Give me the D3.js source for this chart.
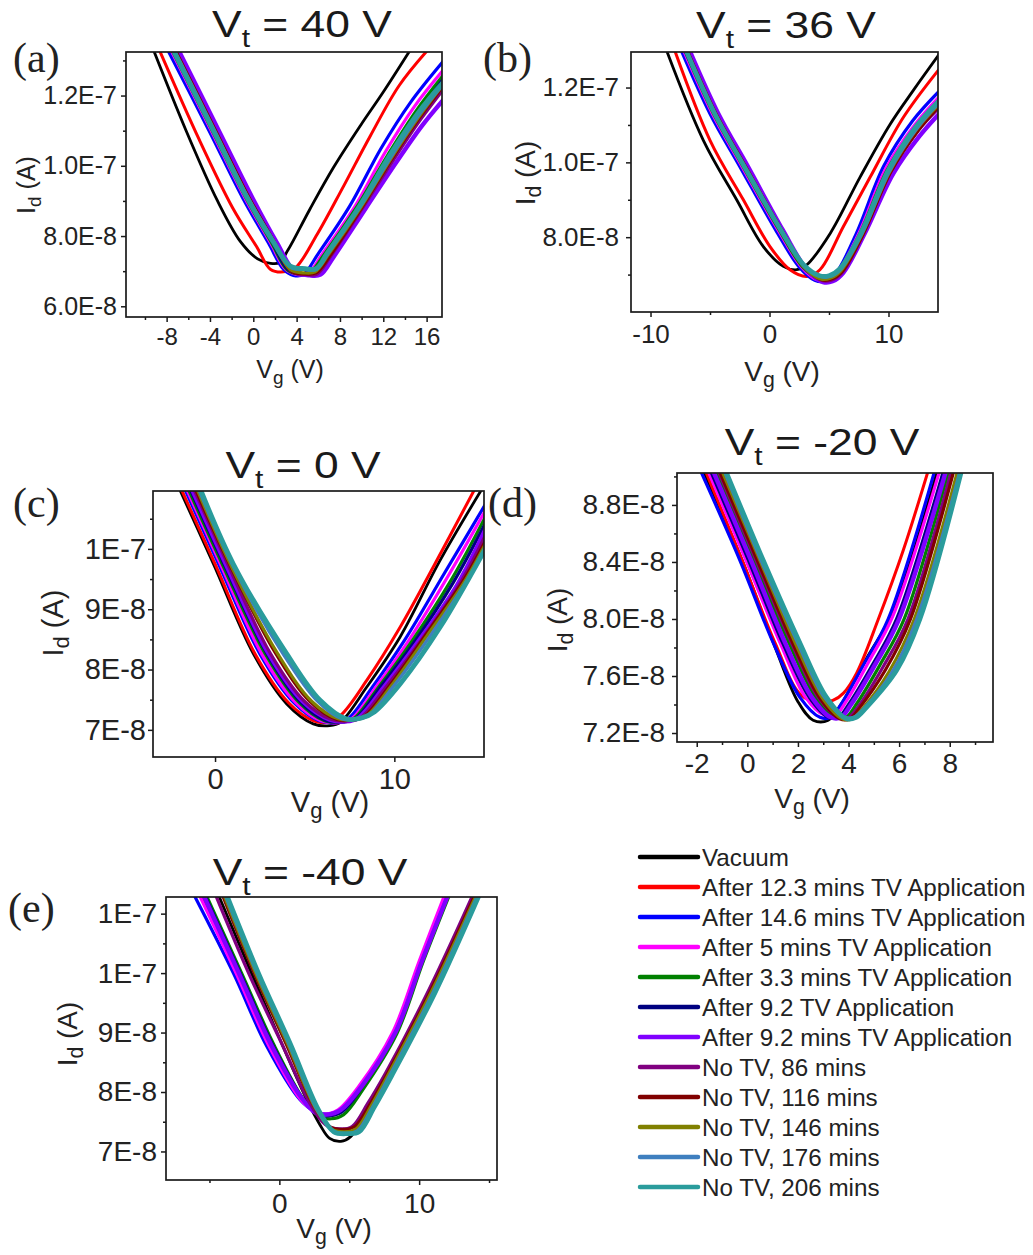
<!DOCTYPE html>
<html>
<head>
<meta charset="utf-8">
<script src="https://cdnjs.cloudflare.com/ajax/libs/d3/7.8.5/d3.min.js"></script>
<style>
body { margin: 0; background: #fff; }
svg { font-family: "Liberation Sans", Arial, sans-serif; }
</style>
</head>
<body>
<script>
// legend order
var seriesNames = [
  "Vacuum",
  "After 12.3 mins TV Application",
  "After 14.6 mins TV Application",
  "After 5 mins TV Application",
  "After 3.3 mins TV Application",
  "After 9.2 TV Application",
  "After 9.2 mins TV Application",
  "No TV, 86 mins",
  "No TV, 116 mins",
  "No TV, 146 mins",
  "No TV, 176 mins",
  "No TV, 206 mins"
];
var seriesColors = ["#000000", "#ff0000", "#0000ff", "#ff00ff", "#008000", "#000080",
  "#8000ff", "#800080", "#800000", "#808000", "#3f7fbf", "#2a9c9c"];
var seriesWidths = [2.8, 3, 3.2, 3.2, 3.2, 3.2, 4.4, 3.2, 3.2, 3.2, 3.4, 4.8];

// curves: [Vg (V), Id (in 1E-8 A)], one list per series in legend order
var curvesA = [
  [[-9.6,13.6],[-6.2,11.0],[-3.3,9.0],[-1.2,7.85],[0.4,7.35],[1.6,7.22],[2.4,7.24],[3.2,7.6],[5.2,8.75],[7.4,9.95],[9.9,11.15],[12.0,12.1],[14.7,13.4]],
  [[-9.1,13.6],[-5.0,10.75],[-1.9,8.8],[0.3,7.7],[1.6,7.05],[2.8,6.98],[3.9,7.1],[5.9,8.05],[8.3,9.4],[10.8,10.85],[13.5,12.3],[16.4,13.4]],
  [[-8.4,13.6],[-4.0,10.95],[-1.0,9.1],[1.4,7.8],[2.8,7.05],[3.7,6.88],[4.6,6.9],[6.0,7.5],[8.9,8.85],[11.8,10.5],[14.5,11.8],[17.6,13.0]],
  [[-8.1,13.6],[-3.8,10.95],[-0.8,9.1],[1.6,7.8],[3.0,7.05],[4.1,6.9],[5.0,6.92],[6.4,7.5],[9.3,8.8],[12.2,10.4],[14.9,11.7],[17.6,12.75]],
  [[-8.0,13.6],[-3.7,10.95],[-0.7,9.1],[1.7,7.8],[3.1,7.05],[4.2,6.92],[5.2,6.95],[6.6,7.5],[9.5,8.8],[12.4,10.3],[15.0,11.55],[17.6,12.6]],
  [[-7.9,13.6],[-3.6,10.95],[-0.6,9.1],[1.8,7.8],[3.2,7.05],[4.4,6.9],[5.4,6.92],[6.8,7.5],[9.7,8.8],[12.6,10.25],[15.2,11.45],[17.6,12.5]],
  [[-7.4,13.6],[-3.1,10.95],[-0.1,9.1],[2.2,7.8],[3.8,7.0],[5.2,6.88],[6.2,6.9],[7.4,7.4],[10.4,8.8],[13.2,10.1],[15.6,11.15],[17.6,11.9]],
  [[-7.7,13.6],[-3.4,10.95],[-0.4,9.1],[2.0,7.8],[3.5,7.0],[4.9,6.9],[5.9,6.92],[7.2,7.45],[10.1,8.8],[12.9,10.15],[15.4,11.3],[17.6,12.2]],
  [[-7.7,13.6],[-3.4,10.95],[-0.4,9.1],[2.0,7.8],[3.5,7.0],[4.8,6.92],[5.8,6.95],[7.1,7.45],[10.0,8.8],[12.8,10.2],[15.3,11.35],[17.6,12.3]],
  [[-7.8,13.6],[-3.5,10.95],[-0.5,9.1],[1.9,7.8],[3.4,7.05],[4.7,6.95],[5.7,6.98],[7.0,7.5],[9.9,8.8],[12.7,10.2],[15.3,11.4],[17.6,12.35]],
  [[-7.8,13.6],[-3.5,10.95],[-0.5,9.1],[1.9,7.85],[3.5,7.1],[4.8,7.05],[5.8,7.05],[7.0,7.55],[9.9,8.85],[12.7,10.25],[15.3,11.45],[17.6,12.35]],
  [[-7.9,13.6],[-3.6,10.95],[-0.6,9.1],[1.8,7.85],[3.4,7.15],[4.8,7.07],[5.8,7.07],[6.9,7.55],[9.8,8.85],[12.6,10.3],[15.2,11.5],[17.6,12.4]]
];
var curvesB = [
  [[-8.9,13.2],[-5.56,10.59],[-2.76,9.0],[-0.52,7.75],[1.16,7.22],[2.3,7.13],[3.1,7.25],[5.1,8.1],[7.6,9.6],[10.1,11.0],[12.1,11.93],[14.4,12.95]],
  [[-8.2,13.2],[-5.0,10.59],[-2.2,9.0],[0.04,7.75],[1.72,7.13],[3.13,6.95],[4.24,7.13],[6.2,8.28],[8.45,9.6],[11.24,11.2],[14.4,12.55]],
  [[-7.7,13.2],[-5.0,11.3],[-2.48,9.88],[0.5,8.2],[2.5,7.2],[3.8,6.85],[4.6,6.82],[5.5,7.0],[7.3,8.1],[9.6,9.9],[12.0,11.1],[14.4,11.95]],
  [[-7.5,13.2],[-4.8,11.3],[-2.3,9.88],[0.7,8.2],[2.7,7.2],[4.0,6.86],[4.8,6.85],[5.7,7.05],[7.5,8.1],[9.8,9.85],[12.2,11.0],[14.4,11.8]],
  [[-7.4,13.2],[-4.7,11.3],[-2.2,9.88],[0.8,8.2],[2.8,7.2],[4.1,6.9],[4.9,6.9],[5.8,7.1],[7.6,8.1],[9.9,9.8],[12.3,10.95],[14.4,11.7]],
  [[-7.4,13.2],[-4.6,11.3],[-2.1,9.88],[0.9,8.2],[2.9,7.2],[4.2,6.86],[5.0,6.86],[5.9,7.05],[7.7,8.1],[10.0,9.8],[12.4,10.9],[14.4,11.65]],
  [[-7.0,13.2],[-4.3,11.3],[-1.8,9.88],[1.1,8.2],[3.1,7.15],[4.5,6.8],[5.3,6.82],[6.2,7.05],[8.0,8.1],[10.4,9.7],[12.6,10.7],[14.4,11.35]],
  [[-7.2,13.2],[-4.5,11.3],[-2.0,9.88],[1.0,8.2],[3.0,7.18],[4.4,6.84],[5.2,6.85],[6.1,7.05],[7.9,8.1],[10.2,9.75],[12.5,10.85],[14.4,11.5]],
  [[-7.2,13.2],[-4.5,11.3],[-2.0,9.88],[1.0,8.2],[3.0,7.2],[4.4,6.86],[5.2,6.88],[6.1,7.08],[7.9,8.1],[10.2,9.75],[12.5,10.85],[14.4,11.55]],
  [[-7.3,13.2],[-4.6,11.3],[-2.1,9.88],[0.9,8.2],[2.9,7.2],[4.3,6.88],[5.1,6.9],[6.0,7.1],[7.8,8.1],[10.1,9.75],[12.4,10.9],[14.4,11.6]],
  [[-7.3,13.2],[-4.6,11.3],[-2.1,9.88],[0.9,8.22],[2.9,7.25],[4.3,6.95],[5.1,6.95],[6.0,7.15],[7.8,8.12],[10.1,9.78],[12.4,10.92],[14.4,11.65]],
  [[-7.3,13.2],[-4.6,11.3],[-2.1,9.88],[0.9,8.22],[2.9,7.25],[4.2,6.97],[5.0,6.97],[5.9,7.15],[7.7,8.12],[10.0,9.8],[12.3,10.95],[14.4,11.7]]
];
var curvesC = [
  [[-2.3,11.2],[-0.09,9.75],[2.14,8.26],[4.0,7.43],[5.48,7.1],[6.4,7.07],[7.0,7.13],[8.46,7.71],[10.32,8.54],[12.55,9.81],[14.9,11.0]],
  [[-2.2,11.2],[0.0,9.75],[2.25,8.25],[4.1,7.45],[5.5,7.15],[6.2,7.12],[7.0,7.24],[8.46,7.82],[10.32,8.7],[12.17,9.7],[14.5,11.0]],
  [[-2.0,11.2],[0.2,9.75],[2.5,8.26],[4.4,7.45],[5.8,7.15],[6.7,7.12],[7.4,7.18],[8.8,7.72],[10.6,8.5],[12.8,9.6],[15.2,10.8]],
  [[-1.9,11.2],[0.3,9.75],[2.6,8.26],[4.5,7.45],[5.9,7.15],[6.9,7.12],[7.6,7.18],[9.0,7.72],[10.8,8.48],[13.0,9.55],[15.2,10.7]],
  [[-1.8,11.2],[0.4,9.75],[2.8,8.26],[4.7,7.45],[6.1,7.15],[7.0,7.13],[7.7,7.18],[9.1,7.7],[11.0,8.48],[13.2,9.5],[15.2,10.6]],
  [[-1.7,11.2],[0.5,9.75],[2.9,8.26],[4.8,7.45],[6.2,7.15],[7.1,7.13],[7.8,7.18],[9.2,7.7],[11.1,8.45],[13.3,9.45],[15.2,10.5]],
  [[-1.6,11.2],[0.6,9.75],[3.0,8.26],[4.9,7.47],[6.4,7.17],[7.3,7.14],[8.0,7.2],[9.4,7.7],[11.3,8.45],[13.5,9.4],[15.2,10.4]],
  [[-1.5,11.2],[0.7,9.75],[3.1,8.26],[5.0,7.47],[6.5,7.17],[7.4,7.15],[8.1,7.2],[9.5,7.7],[11.4,8.45],[13.6,9.4],[15.2,10.3]],
  [[-1.4,11.2],[0.8,9.75],[3.4,8.26],[5.3,7.47],[6.8,7.17],[7.6,7.16],[8.3,7.22],[9.7,7.72],[11.7,8.55],[13.9,9.5],[15.2,10.2]],
  [[-1.3,11.2],[0.85,9.75],[3.5,8.26],[5.4,7.47],[6.9,7.18],[7.7,7.17],[8.4,7.22],[9.8,7.72],[11.8,8.55],[14.0,9.5],[15.2,10.15]],
  [[-1.2,11.2],[0.95,9.75],[3.8,8.26],[5.7,7.48],[7.1,7.18],[7.9,7.18],[8.6,7.25],[10.0,7.74],[12.1,8.6],[14.3,9.6],[15.2,10.1]],
  [[-1.1,11.2],[1.02,9.75],[4.0,8.26],[5.86,7.49],[7.34,7.18],[8.2,7.2],[8.9,7.3],[10.32,7.76],[12.55,8.7],[15.2,10.07]]
];
var curvesD = [
  [[-1.9,9.1],[-0.2,8.41],[1.1,7.8],[2.0,7.42],[2.6,7.29],[3.2,7.29],[3.7,7.4],[4.7,7.72],[5.75,8.05],[7.6,9.1]],
  [[-1.8,9.1],[-0.2,8.41],[1.1,7.83],[2.1,7.47],[2.87,7.41],[3.4,7.43],[3.8,7.48],[4.32,7.62],[5.18,8.0],[6.16,8.48],[7.25,9.1]],
  [[-2.0,9.1],[-0.29,8.41],[1.03,7.83],[2.08,7.45],[2.87,7.31],[3.3,7.31],[3.7,7.4],[4.6,7.68],[5.57,8.0],[7.5,9.1]],
  [[-1.7,9.1],[-0.05,8.41],[1.3,7.83],[2.3,7.45],[3.0,7.33],[3.5,7.33],[3.9,7.42],[4.8,7.7],[5.75,8.02],[7.7,9.1]],
  [[-1.4,9.1],[0.25,8.41],[1.65,7.83],[2.7,7.45],[3.5,7.31],[3.9,7.31],[4.3,7.4],[5.25,7.68],[6.2,8.0],[8.05,9.1]],
  [[-1.6,9.1],[0.05,8.41],[1.4,7.83],[2.45,7.45],[3.2,7.31],[3.6,7.31],[4.0,7.4],[4.95,7.68],[5.9,8.0],[7.85,9.1]],
  [[-1.5,9.1],[0.15,8.41],[1.5,7.83],[2.55,7.45],[3.3,7.31],[3.7,7.31],[4.1,7.4],[5.05,7.68],[6.0,8.0],[7.95,9.1]],
  [[-1.3,9.1],[0.35,8.41],[1.75,7.83],[2.8,7.45],[3.6,7.31],[4.0,7.31],[4.4,7.39],[5.35,7.66],[6.35,8.0],[8.15,9.1]],
  [[-1.25,9.1],[0.4,8.41],[1.8,7.83],[2.85,7.45],[3.65,7.3],[4.05,7.3],[4.45,7.38],[5.45,7.64],[6.45,8.0],[8.25,9.1]],
  [[-1.15,9.1],[0.5,8.41],[1.9,7.83],[2.95,7.45],[3.75,7.3],[4.15,7.3],[4.55,7.37],[5.6,7.63],[6.6,8.0],[8.4,9.1]],
  [[-1.05,9.1],[0.55,8.41],[2.0,7.83],[3.05,7.45],[3.85,7.31],[4.2,7.31],[4.65,7.38],[5.7,7.62],[6.7,8.0],[8.5,9.1]],
  [[-1.0,9.1],[0.63,8.41],[2.08,7.83],[3.13,7.45],[3.92,7.3],[4.3,7.31],[4.71,7.38],[5.9,7.64],[6.82,8.0],[8.55,9.1]]
];
var curvesE = [
  [[-4.6,11.45],[-2.0,10.0],[0.2,8.8],[1.9,7.9],[2.9,7.45],[3.6,7.22],[4.4,7.17],[5.1,7.25],[6.0,7.6],[7.7,8.32],[10.8,9.72],[14.2,11.45]],
  [[-5.9,11.45],[-3.0,10.05],[-0.7,8.85],[1.6,7.9],[2.6,7.65],[3.4,7.6],[4.3,7.65],[5.8,8.1],[8.2,9.0],[10.2,10.25],[12.3,11.45]],
  [[-6.4,11.45],[-3.29,10.0],[-0.9,8.77],[1.48,7.87],[2.5,7.68],[3.3,7.63],[4.34,7.7],[5.76,8.09],[8.2,9.0],[10.1,10.2],[12.15,11.45]],
  [[-6.0,11.45],[-3.1,10.0],[-0.8,8.8],[1.5,7.88],[2.5,7.68],[3.2,7.63],[4.2,7.7],[5.7,8.1],[8.1,9.0],[10.0,10.2],[12.05,11.45]],
  [[-5.5,11.45],[-2.7,10.0],[-0.4,8.8],[1.8,7.85],[2.8,7.6],[3.7,7.55],[4.6,7.62],[6.0,8.05],[8.4,8.98],[10.3,10.2],[12.4,11.45]],
  [[-5.6,11.45],[-2.8,10.0],[-0.5,8.8],[1.7,7.88],[2.7,7.63],[3.5,7.6],[4.5,7.67],[5.9,8.08],[8.3,9.0],[10.2,10.2],[12.3,11.45]],
  [[-5.7,11.45],[-2.9,10.0],[-0.6,8.8],[1.6,7.9],[2.6,7.65],[3.4,7.62],[4.4,7.7],[5.9,8.1],[8.3,9.0],[10.2,10.2],[12.3,11.45]],
  [[-4.8,11.45],[-2.2,10.0],[0.2,8.8],[2.2,7.8],[3.3,7.45],[4.3,7.38],[5.2,7.42],[6.3,7.8],[7.6,8.32],[10.7,9.72],[14.1,11.45]],
  [[-4.3,11.45],[-1.8,10.0],[0.5,8.8],[2.5,7.75],[3.6,7.42],[4.6,7.37],[5.4,7.42],[6.5,7.8],[7.75,8.32],[10.85,9.72],[14.25,11.45]],
  [[-4.2,11.45],[-1.7,10.0],[0.6,8.8],[2.6,7.72],[3.7,7.38],[4.7,7.33],[5.5,7.38],[6.6,7.78],[7.85,8.32],[10.95,9.72],[14.35,11.45]],
  [[-4.1,11.45],[-1.6,10.0],[0.7,8.8],[2.7,7.7],[3.8,7.35],[4.8,7.3],[5.6,7.35],[6.7,7.76],[7.95,8.3],[11.05,9.7],[14.45,11.45]],
  [[-4.0,11.45],[-1.5,10.0],[0.8,8.8],[2.8,7.7],[3.9,7.33],[4.9,7.3],[5.7,7.33],[6.8,7.75],[8.05,8.28],[11.15,9.68],[14.55,11.45]]
];

// panel titles and ticks
var titleValues = ["40", "36", "0", "-20", "-40"];
var xTicksA = [-8, -4, 0, 4, 8, 12, 16], xMinorA = [-10, -6, -2, 2, 6, 10, 14];
var yTicksA = [6, 8, 10, 12], yLabelsA = ["6.0E-8", "8.0E-8", "1.0E-7", "1.2E-7"], yMinorA = [7, 9, 11, 13];
var xTicksB = [-10, 0, 10], xMinorB = [-5, 5];
var yTicksB = [8, 10, 12], yLabelsB = ["8.0E-8", "1.0E-7", "1.2E-7"], yMinorB = [7, 9, 11];
var xTicksC = [0, 10], xMinorC = [5];
var yTicksC = [7, 8, 9, 10], yLabelsC = ["7E-8", "8E-8", "9E-8", "1E-7"], yMinorC = [7.5, 8.5, 9.5, 10.5];
var xTicksD = [-2, 0, 2, 4, 6, 8], xMinorD = [-1, 1, 3, 5, 7, 9];
var yTicksD = [7.2, 7.6, 8.0, 8.4, 8.8], yLabelsD = ["7.2E-8", "7.6E-8", "8.0E-8", "8.4E-8", "8.8E-8"], yMinorD = [7.4, 7.8, 8.2, 8.6, 9.0];
var xTicksE = [0, 10], xMinorE = [-5, 5, 15];
var yTicksE = [7, 8, 9, 10, 11], yLabelsE = ["7E-8", "8E-8", "9E-8", "1E-7", "1E-7"], yMinorE = [7.5, 8.5, 9.5, 10.5];

var panels = [
  {id: "a", curves: curvesA, title: titleValues[0], frame: [126, 52, 442, 317], xDomain: [-11.75, 17.42], yDomain: [5.695, 13.24],
   xTicks: xTicksA, xMinor: xMinorA, yTicks: yTicksA, yLabels: yLabelsA, yMinor: yMinorA,
   tickFs: 24, yTickFs: 25, xPad: 6, yPad: 4, labelFs: 25,
   xLabel: [290, 378], yLabel: [35, 185], titlePos: [302, 37], tag: [13, 72]},
  {id: "b", curves: curvesB, title: titleValues[1], frame: [631, 52, 938, 312], xDomain: [-11.64, 14.16], yDomain: [6.0, 12.95],
   xTicks: xTicksB, xMinor: xMinorB, yTicks: yTicksB, yLabels: yLabelsB, yMinor: yMinorB,
   tickFs: 26, yTickFs: 26, xPad: 8, yPad: 7, labelFs: 28,
   xLabel: [782, 381], yLabel: [535, 173], titlePos: [786, 38], tag: [483, 72]},
  {id: "c", curves: curvesC, title: titleValues[2], frame: [153, 491, 484, 757], xDomain: [-3.46, 15.0], yDomain: [6.55, 10.96],
   xTicks: xTicksC, xMinor: xMinorC, yTicks: yTicksC, yLabels: yLabelsC, yMinor: yMinorC,
   tickFs: 29, yTickFs: 29, xPad: 6, yPad: 2, labelFs: 29,
   xLabel: [330, 812], yLabel: [63, 623], titlePos: [303, 478], tag: [13, 517]},
  {id: "d", curves: curvesD, title: titleValues[3], frame: [677, 473, 993, 742], xDomain: [-2.78, 9.71], yDomain: [7.137, 9.024],
   xTicks: xTicksD, xMinor: xMinorD, yTicks: yTicksD, yLabels: yLabelsD, yMinor: yMinorD,
   tickFs: 28, yTickFs: 28, xPad: 6, yPad: 7, labelFs: 28,
   xLabel: [812, 808], yLabel: [567, 620], titlePos: [822, 455], tag: [488, 517]},
  {id: "e", curves: curvesE, title: titleValues[4], frame: [166, 897, 497, 1180], xDomain: [-8.11, 15.57], yDomain: [6.52, 11.28],
   xTicks: xTicksE, xMinor: xMinorE, yTicks: yTicksE, yLabels: yLabelsE, yMinor: yMinorE,
   tickFs: 28, yTickFs: 28, xPad: 8, yPad: 4, labelFs: 28,
   xLabel: [334, 1238], yLabel: [77, 1034], titlePos: [310, 885], tag: [8, 922]}
];

var width = 1033,
    height = 1255;

var svg = d3.select("body").append("svg")
    .attr("width", width)
    .attr("height", height);

panels.forEach(drawPanel);
drawLegend();

function drawPanel(p)
{
    var f = p.frame;
    var x = d3.scaleLinear().domain(p.xDomain).range([f[0], f[2]]);
    var y = d3.scaleLinear().domain(p.yDomain).range([f[3], f[1]]);
    var g = svg.append("g").attr("class", "panel-" + p.id);

    g.append("clipPath")
        .attr("id", "clip-" + p.id)
        .append("rect")
        .attr("x", f[0]).attr("y", f[1])
        .attr("width", f[2] - f[0]).attr("height", f[3] - f[1]);

    var line = d3.line()
        .x(function (d) { return x(d[0]); })
        .y(function (d) { return y(d[1]); })
        .curve(d3.curveCatmullRom.alpha(0.5));

    g.append("g")
        .attr("clip-path", "url(#clip-" + p.id + ")")
        .selectAll("path")
        .data(p.curves)
        .enter()
        .append("path")
        .attr("d", line)
        .attr("fill", "none")
        .attr("stroke", function (d, i) { return seriesColors[i]; })
        .attr("stroke-width", function (d, i) { return seriesWidths[i]; })
        .attr("stroke-linejoin", "round");

    // minor ticks
    g.append("g")
        .attr("transform", "translate(0," + f[3] + ")")
        .call(d3.axisBottom(x).tickValues(p.xMinor).tickSize(3).tickFormat(""))
        .call(styleAxis, p.tickFs);
    g.append("g")
        .attr("transform", "translate(" + f[0] + ",0)")
        .call(d3.axisLeft(y).tickValues(p.yMinor).tickSize(3).tickFormat(""))
        .call(styleAxis, p.tickFs);

    // major ticks
    g.append("g")
        .attr("transform", "translate(0," + f[3] + ")")
        .call(d3.axisBottom(x).tickValues(p.xTicks).tickSize(5).tickPadding(p.xPad)
            .tickFormat(function (d) { return String(d); }))
        .call(styleAxis, p.tickFs);
    g.append("g")
        .attr("transform", "translate(" + f[0] + ",0)")
        .call(d3.axisLeft(y).tickValues(p.yTicks).tickSize(5).tickPadding(p.yPad)
            .tickFormat(function (d, i) { return p.yLabels[i]; }))
        .call(styleAxis, p.yTickFs);

    g.append("rect")
        .attr("x", f[0]).attr("y", f[1])
        .attr("width", f[2] - f[0]).attr("height", f[3] - f[1])
        .attr("fill", "none")
        .attr("stroke", "#1a1a1a")
        .attr("stroke-width", 1.7);

    // axis titles
    subLabel(g.append("text")
        .attr("x", p.xLabel[0]).attr("y", p.xLabel[1]), "V", "g", " (V)", p.labelFs);
    subLabel(g.append("text")
        .attr("transform", "translate(" + p.yLabel[0] + "," + p.yLabel[1] + ") rotate(-90)"), "I", "d", " (A)", p.labelFs);

    // panel title V_t = ...
    var t = g.append("text")
        .attr("transform", "translate(" + p.titlePos[0] + "," + p.titlePos[1] + ") scale(1.2,1)")
        .attr("text-anchor", "middle")
        .attr("font-size", 37)
        .attr("fill", "#1a1a1a");
    t.append("tspan").text("V");
    t.append("tspan").attr("dy", 10).attr("font-size", 25).text("t");
    t.append("tspan").attr("dy", -10).text(" = " + p.title + " V");

    g.append("text")
        .attr("x", p.tag[0]).attr("y", p.tag[1])
        .attr("font-family", "'Liberation Serif', 'Times New Roman', serif")
        .attr("font-size", 42)
        .attr("fill", "#222")
        .text("(" + p.id + ")");
}

function styleAxis(sel, fs)
{
    sel.select(".domain").remove();
    sel.selectAll("line").attr("stroke", "#1a1a1a").attr("stroke-width", 1.5);
    sel.selectAll("text")
        .attr("font-size", fs)
        .attr("font-family", "'Liberation Sans', Arial, sans-serif")
        .attr("fill", "#222");
}

function subLabel(text, main, sub, rest, fs)
{
    text.attr("text-anchor", "middle")
        .attr("font-size", fs)
        .attr("fill", "#222");
    text.append("tspan").text(main);
    text.append("tspan").attr("dy", fs * 0.22).attr("font-size", fs * 0.76).text(sub);
    text.append("tspan").attr("dy", -fs * 0.22).text(rest);
}

function drawLegend()
{
    var row = d3.scaleLinear().domain([0, 11]).range([857, 1187]);
    var lg = svg.append("g").attr("class", "legend");
    var item = lg.selectAll("g")
        .data(seriesNames)
        .enter()
        .append("g")
        .attr("transform", function (d, i) { return "translate(0," + row(i) + ")"; });

    item.append("line")
        .attr("x1", 640).attr("x2", 698)
        .attr("stroke", function (d, i) { return seriesColors[i]; })
        .attr("stroke-width", 4.5)
        .attr("stroke-linecap", "round");

    item.append("text")
        .attr("x", 702)
        .attr("y", 8.5)
        .attr("font-size", 24.2)
        .attr("fill", "#222")
        .text(function (d) { return d; });
}
</script>
</body>
</html>
